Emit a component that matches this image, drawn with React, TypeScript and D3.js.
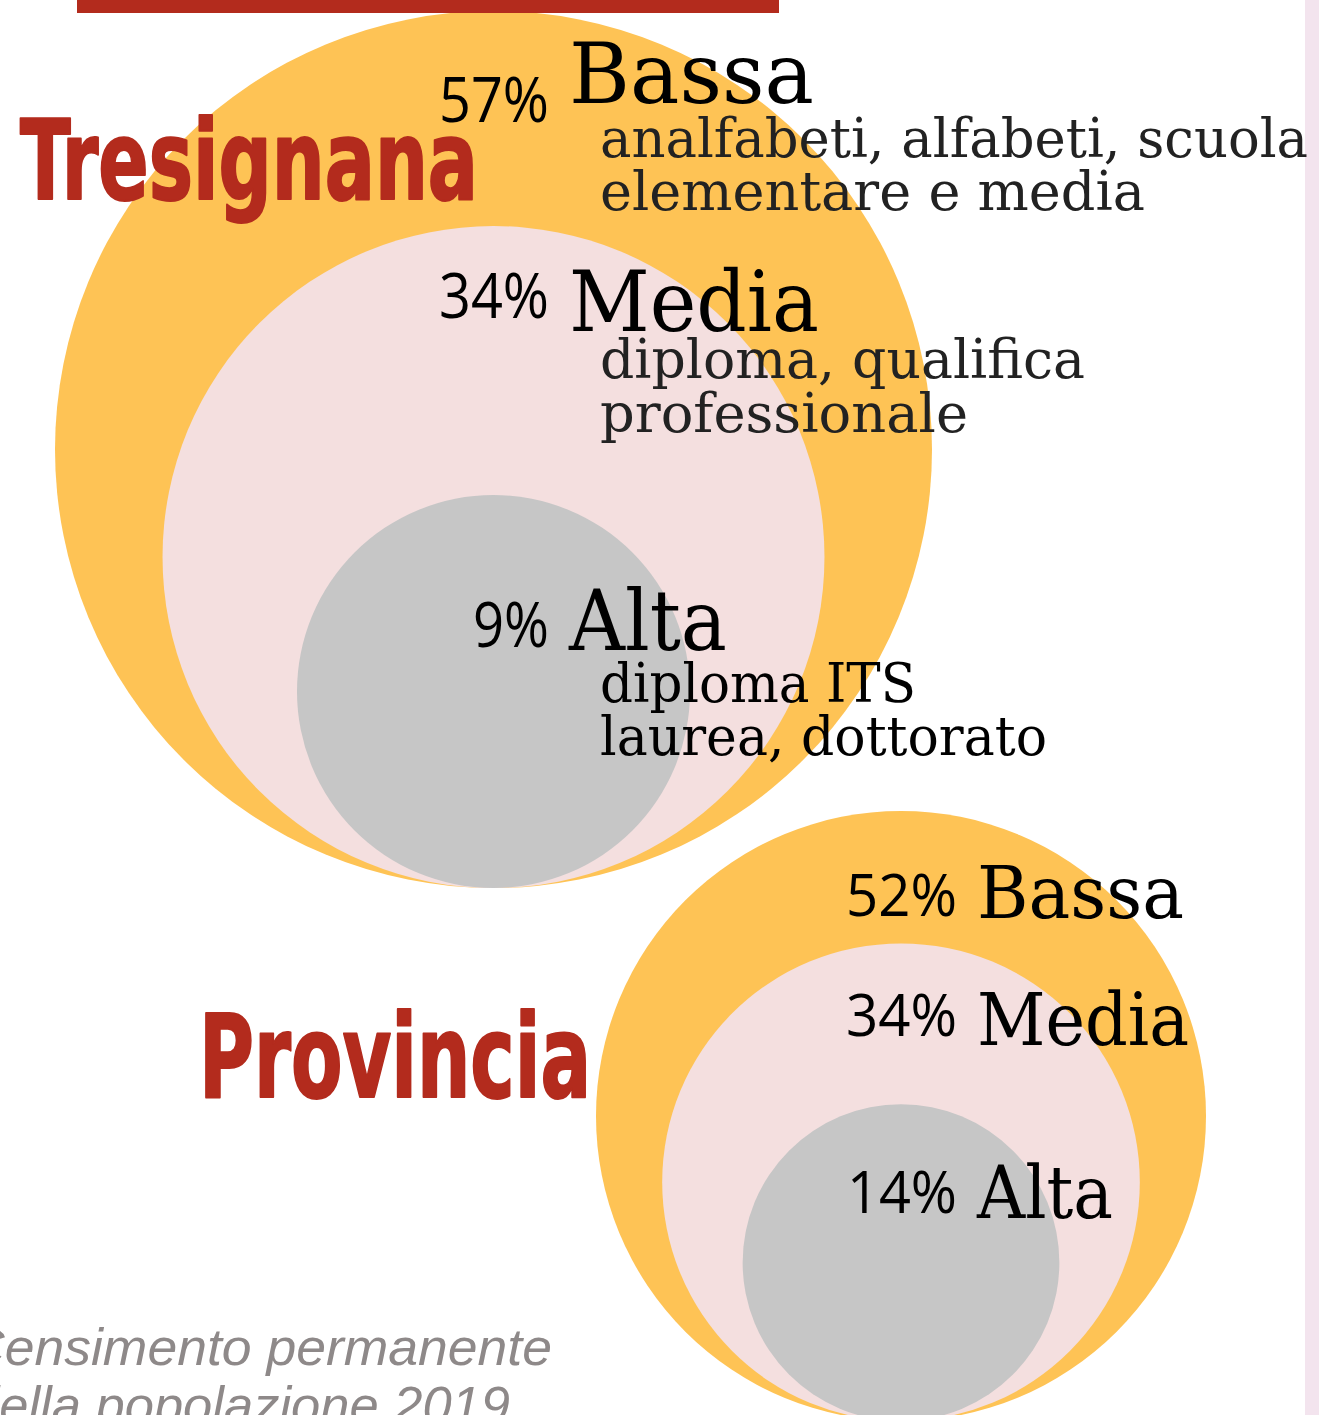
import React from 'react';
import * as d3 from 'd3';

// livelli di istruzione e quote (%)
const levels = ['Bassa', 'Media', 'Alta'];
const tresignanaShares = [57, 34, 9];
const provinciaShares = [52, 34, 14];
const levelNotes = [
  ['analfabeti, alfabeti, scuola', 'elementare e media'],
  ['diploma, qualifica', 'professionale'],
  ['diploma ITS', 'laurea, dottorato'],
];
const regionNames = ['Tresignana', 'Provincia'];
const sourceLines = ['Censimento permanente', 'della popolazione 2019'];

const W = 1319;
const H = 1415;

const ORANGE = '#fec355';
const PINK = '#f4dfdf';
const GRAY = '#c6c6c6';
const RED = '#b32b1d';
const fills = [ORANGE, PINK, GRAY];

const SLAB = "'DejaVu Serif', serif";
const SANS = "'Open Sans', 'DejaVu Sans', sans-serif";
const BRUSH = "'Liberation Sans Narrow', 'DejaVu Sans Condensed', sans-serif";

// layout of each block (positions only, no data)
const layouts = [
  {
    shares: tresignanaShares,
    cx: 493.5,
    bottom: 888,
    R: 438.5,
    title: { x: 20, y: 199, size: 110, len: 458 },
    pctX: 549,
    wordX: 569,
    noteX: 600,
    pctSize: 62,
    wordSize: 84,
    rows: [
      { pctY: 122, wordY: 103, pctLen: 110, wordLen: 245, notes: [157, 210], noteLens: [708, 545] },
      { pctY: 318, wordY: 331, pctLen: 110, wordLen: 250, notes: [378, 432], noteLens: [485, 368] },
      { pctY: 647, wordY: 650, pctLen: 76, wordLen: 158, notes: [702, 755], noteLens: [316, 447] },
    ],
  },
  {
    shares: provinciaShares,
    cx: 901,
    bottom: 1421,
    R: 305,
    title: { x: 199, y: 1097, size: 116, len: 392 },
    pctX: 957,
    wordX: 977,
    noteX: 0,
    pctSize: 59,
    wordSize: 72,
    rows: [
      { pctY: 916, wordY: 918, pctLen: 111, wordLen: 207, notes: [], noteLens: [] },
      { pctY: 1036, wordY: 1045, pctLen: 111, wordLen: 212, notes: [], noteLens: [] },
      { pctY: 1213, wordY: 1218, pctLen: 110, wordLen: 136, notes: [], noteLens: [] },
    ],
  },
];

// fonte, in basso a sinistra (tagliata dal bordo come nell'originale)
const sourceLayout = [
  { x: -34, y: 1365, len: 586 },
  { x: -30, y: 1423, len: 540 },
];

const Block = ({ layout, name }: { layout: any; name: string }) => {
  // ogni cerchio contiene il livello e quelli superiori
  const cumulative = layout.shares.map((_: number, i: number) => d3.sum(layout.shares.slice(i)));
  const r = d3.scalePow().exponent(1 / 3).domain([0, 100]).range([0, layout.R]);

  return (
    <g>
      {cumulative.map((v: number, i: number) => (
        <circle
          key={i}
          cx={layout.cx}
          cy={layout.bottom - r(v)}
          r={r(v)}
          fill={fills[i]}
        />
      ))}
      <text
        x={layout.title.x}
        y={layout.title.y}
        fontFamily={BRUSH}
        fontWeight={700}
        fontSize={layout.title.size}
        fill={RED}
        stroke={RED}
        strokeWidth={2}
        strokeLinejoin="round"
        textLength={layout.title.len}
        lengthAdjust="spacingAndGlyphs"
      >
        {name}
      </text>
      {levels.map((lv, i) => {
        const row = layout.rows[i];
        return (
          <g key={lv}>
            <text
              x={layout.pctX}
              y={row.pctY}
              textAnchor="end"
              fontFamily={SANS}
              fontSize={layout.pctSize}
              fill="#000"
              textLength={row.pctLen}
              lengthAdjust="spacingAndGlyphs"
            >
              {layout.shares[i]}%
            </text>
            <text
              x={layout.wordX}
              y={row.wordY}
              fontFamily={SLAB}
              fontSize={layout.wordSize}
              fill="#000"
              textLength={row.wordLen}
              lengthAdjust="spacingAndGlyphs"
            >
              {lv}
            </text>
            {row.notes.map((ny: number, j: number) => (
              <text
                key={j}
                x={layout.noteX}
                y={ny}
                fontFamily={SLAB}
                fontSize={54}
                fill={i === 2 ? '#000' : '#222'}
                textLength={row.noteLens[j]}
                lengthAdjust="spacingAndGlyphs"
              >
                {levelNotes[i][j]}
              </text>
            ))}
          </g>
        );
      })}
    </g>
  );
};

const App = () => {
  return (
    <div style={{ position: 'absolute', left: 0, top: 0 }}>
      <svg width={W} height={H} style={{ display: 'block', overflow: 'hidden' }}>
        <rect x={0} y={0} width={W} height={H} fill="#fff" />
        {/* striscia laterale */}
        <rect x={1305} y={0} width={W - 1305} height={H} fill="#f3e4ee" />
        {layouts.map((l, i) => (
          <Block key={regionNames[i]} layout={l} name={regionNames[i]} />
        ))}
        {/* barra rossa in alto */}
        <rect x={77} y={0} width={702} height={13} fill={RED} />
        {sourceLines.map((s, i) => (
          <text
            key={i}
            x={sourceLayout[i].x}
            y={sourceLayout[i].y}
            fontFamily="'Liberation Sans', Arial, sans-serif"
            fontStyle="italic"
            fontSize={52}
            fill="#8e8989"
            textLength={sourceLayout[i].len}
            lengthAdjust="spacingAndGlyphs"
          >
            {s}
          </text>
        ))}
      </svg>
    </div>
  );
};

export default App;
